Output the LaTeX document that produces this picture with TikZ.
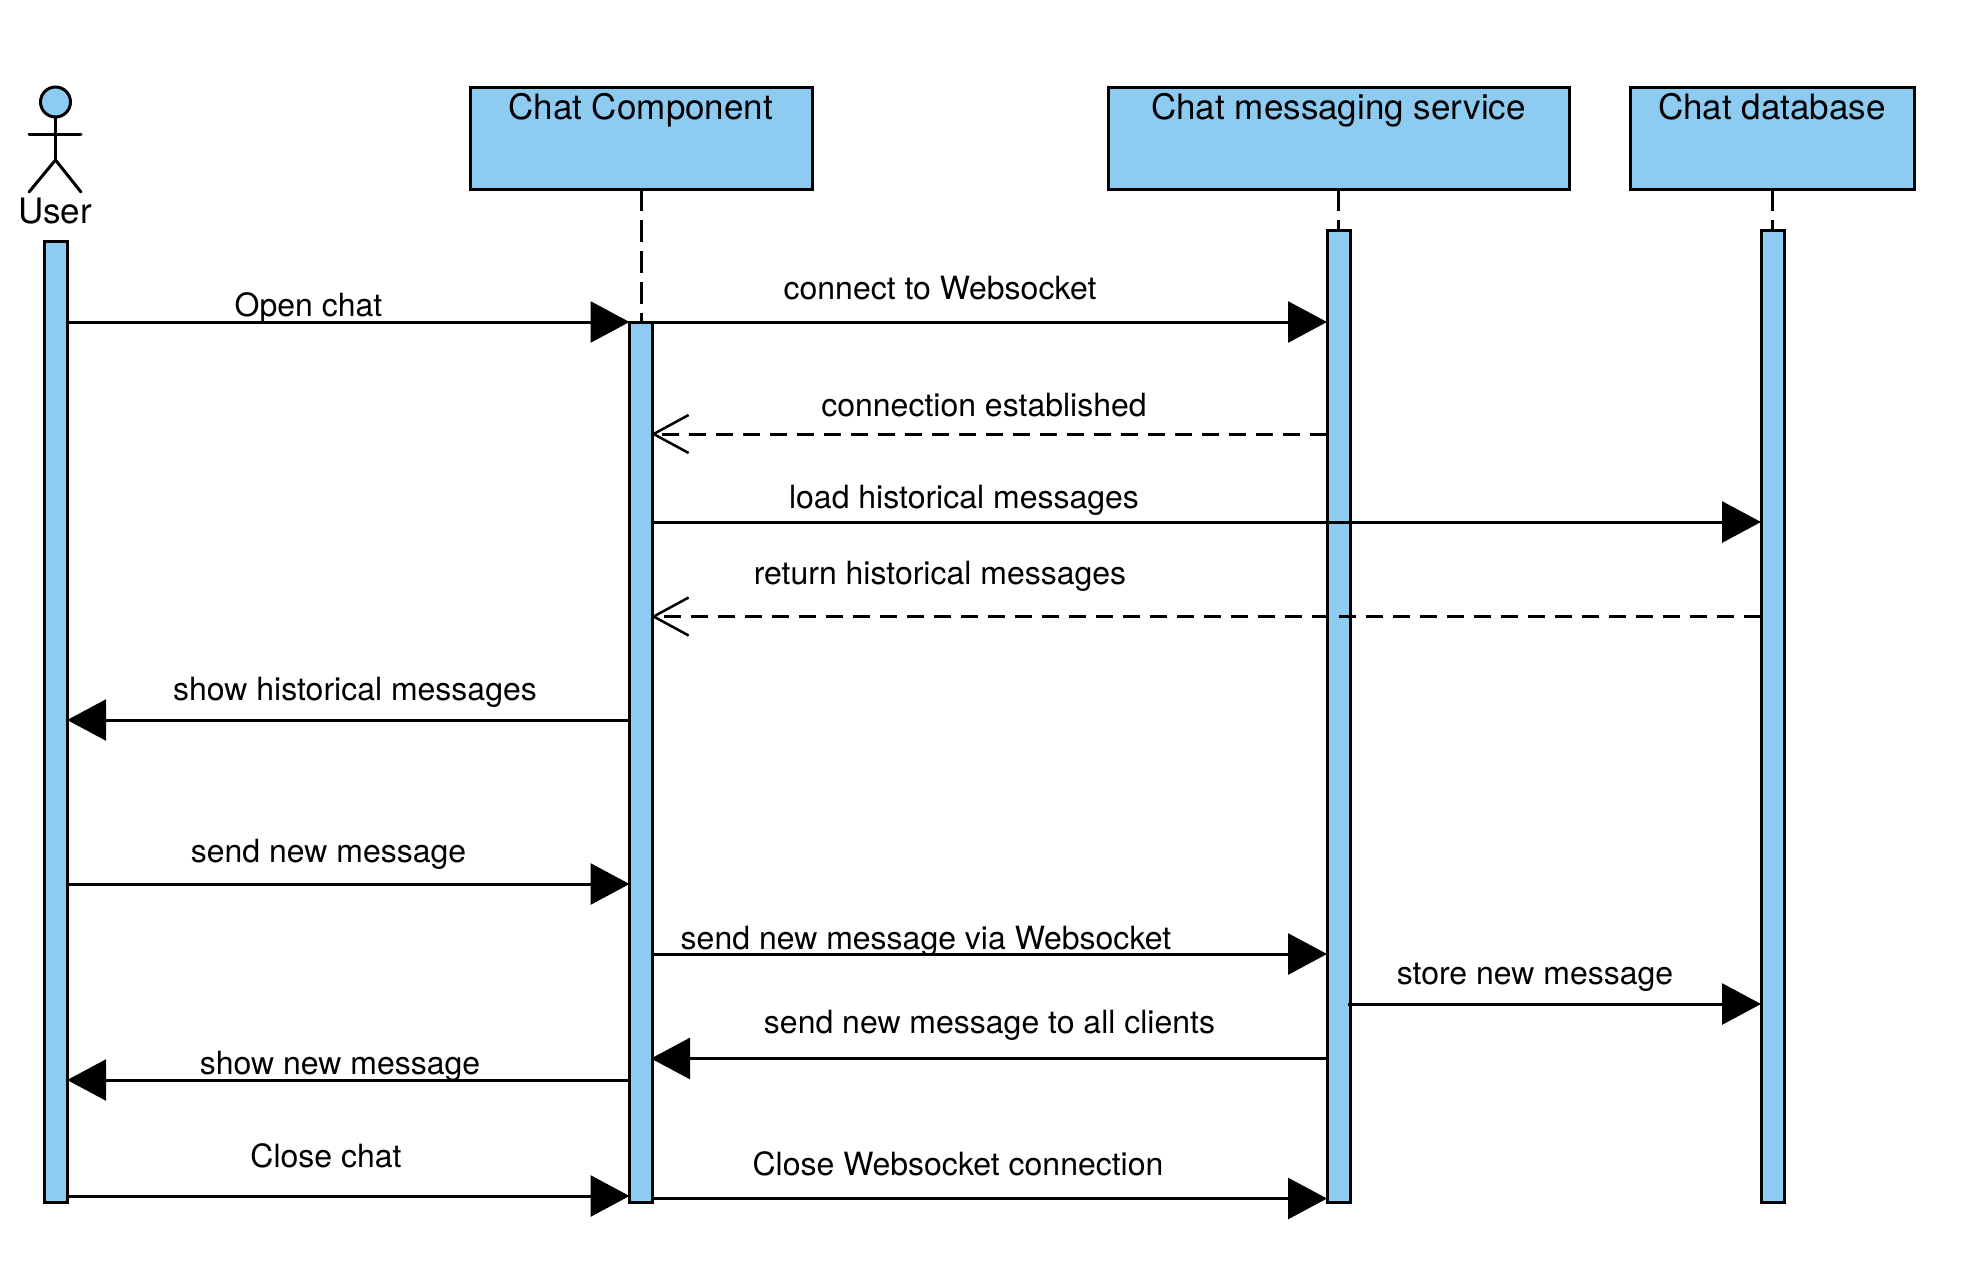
\documentclass[tikz,border=0pt]{standalone}
\usepackage{fontspec}
\setmainfont{TeX Gyre Heros}
\usetikzlibrary{arrows.meta}
\definecolor{umlblue}{HTML}{8ECBF1}
\tikzset{
  partbox/.style={draw=black,fill=umlblue,line width=3pt,inner sep=0pt,outer sep=0pt},
  actbar/.style={draw=black,fill=umlblue,line width=3pt,inner sep=0pt,outer sep=0pt,minimum width=23pt},
  boxtext/.style={font=\fontsize{35}{35}\selectfont,inner sep=0pt,anchor=base},
  msgtext/.style={font=\fontsize{32}{32}\selectfont,inner sep=0pt,anchor=base},
  lifeline/.style={line width=3pt,dash pattern=on 22pt off 9pt},
  syncmsg/.style={line width=3pt,-{Triangle[length=39pt,width=41pt]}},
  replymsg/.style={line width=3pt,dash pattern=on 17pt off 10pt,-{Straight Barb[length=35pt,width=38pt,line width=2.5pt]}},
  stick/.style={line width=3pt,line cap=round}
}
\begin{document}
\begin{tikzpicture}[x=1pt,y=-1pt]
\useasboundingbox[fill=white] (0,0) rectangle (1978,1270);
% participants
\node[partbox,minimum width=342pt,minimum height=102pt] (comp) at (641,138) {};
\node[boxtext] (compt) at (640.7,119) {Chat Component};
\node[partbox,minimum width=461pt,minimum height=102pt] (serv) at (1338.5,138) {};
\node[boxtext] (servt) at (1338.5,119) {Chat messaging service};
\node[partbox,minimum width=284pt,minimum height=102pt] (db) at (1772,138) {};
\node[boxtext] (dbt) at (1772,119) {Chat database};
% activation bars
\node[actbar,minimum height=961pt] (ua) at (55.7,721.5) {};
\node[actbar,minimum height=880pt] (ca) at (641,762) {};
\node[actbar,minimum height=972pt] (sa) at (1338.5,716) {};
\node[actbar,minimum height=972pt] (da) at (1772.5,716) {};
% lifelines
\draw[lifeline] (comp.south) -- (comp.south |- ca.north);
\draw[lifeline] (serv.south) -- (serv.south |- sa.north);
\draw[lifeline] (db.south) -- (db.south |- da.north);
% actor
\node[circle,draw=black,fill=umlblue,line width=3pt,minimum size=30pt,inner sep=0pt,outer sep=0pt] (head) at (55.5,102) {};
\coordinate (hip) at (55.5,160);
\coordinate (arml) at (29,134);
\coordinate (armr) at (81,134);
\coordinate (legl) at (29,192);
\coordinate (legr) at (81,192);
\draw[stick] (head.south) -- (hip);
\draw[stick] (arml) -- (armr);
\draw[stick] (legl) -- (hip) -- (legr);
\node[boxtext] (usert) at (55,223) {User};
% messages
\draw[syncmsg] (ua.east |- 0,322) -- (ca.west |- 0,322);
\draw[syncmsg] (ca.east |- 0,322) -- (sa.west |- 0,322);
\draw[replymsg] (sa.west |- 0,434) -- ([xshift=-1.5pt]ca.east |- 0,434);
\draw[syncmsg] ([xshift=-2pt]ca.east |- 0,522) -- (da.west |- 0,522);
\draw[replymsg] (da.west |- 0,616.5) -- ([xshift=-1.5pt]ca.east |- 0,616.5);
\draw[syncmsg] (ca.west |- 0,720) -- (ua.east |- 0,720);
\draw[syncmsg] (ua.east |- 0,884) -- (ca.west |- 0,884);
\draw[syncmsg] ([xshift=-2pt]ca.east |- 0,954) -- (sa.west |- 0,954);
\draw[syncmsg] ([xshift=-2pt]sa.east |- 0,1004) -- (da.west |- 0,1004);
\draw[syncmsg] (sa.west |- 0,1058.5) -- ([xshift=-1.5pt]ca.east |- 0,1058.5);
\draw[syncmsg] (ca.west |- 0,1080) -- (ua.east |- 0,1080);
\draw[syncmsg] (ua.east |- 0,1196) -- (ca.west |- 0,1196);
\draw[syncmsg] ([xshift=-2pt]ca.east |- 0,1198.5) -- (sa.west |- 0,1198.5);
% labels
\node[msgtext] (m1) at (308.5,316) {Open chat};
\node[msgtext] (m2) at (940,299.5) {connect to Websocket};
\node[msgtext] (m3) at (984,416) {connection established};
\node[msgtext] (m4) at (964,508) {load historical messages};
\node[msgtext] (m5) at (940,584) {return historical messages};
\node[msgtext] (m6) at (355,700) {show historical messages};
\node[msgtext] (m7) at (328.5,862) {send new message};
\node[msgtext] (m8) at (926,949) {send new message via Websocket};
\node[msgtext] (m9) at (1535,984) {store new message};
\node[msgtext] (m10) at (989.5,1033) {send new message to all clients};
\node[msgtext] (m11) at (340,1074.5) {show new message};
\node[msgtext] (m12) at (326,1167) {Close chat};
\node[msgtext] (m13) at (958,1175) {Close Websocket connection};
\end{tikzpicture}
\end{document}
